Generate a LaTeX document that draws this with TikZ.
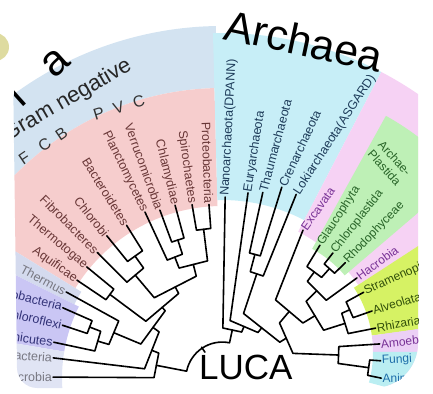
\documentclass[tikz,border=0pt]{standalone}
\usepackage{fontspec}
\setmainfont{Liberation Sans}
\usepackage{tikz}
\usetikzlibrary{calc}

\definecolor{negband}{RGB}{211,227,241}
\definecolor{bacpink}{RGB}{246,205,205}
\definecolor{thermbg}{RGB}{212,218,238}
\definecolor{posbg}{RGB}{202,198,244}
\definecolor{lowbg}{RGB}{224,228,244}
\definecolor{archbg}{RGB}{199,238,247}
\definecolor{eukbg}{RGB}{246,210,244}
\definecolor{plantbg}{RGB}{190,240,182}
\definecolor{sarbg}{RGB}{214,242,100}
\definecolor{amoebg}{RGB}{236,208,246}
\definecolor{opisbg}{RGB}{186,238,242}
\definecolor{dotbg}{RGB}{222,219,160}
\definecolor{bactext}{RGB}{105,55,55}
\definecolor{archtext}{RGB}{30,60,90}
\definecolor{plantext}{RGB}{40,100,40}
\definecolor{purptext}{RGB}{120,50,150}
\definecolor{sartext}{RGB}{50,80,10}
\definecolor{fungtext}{RGB}{30,110,170}
\definecolor{postext}{RGB}{50,50,120}
\definecolor{greytext}{RGB}{120,120,130}

\tikzset{
  branch/.style={draw=black, line width=1.6pt, line join=round, line cap=round},
  leaflabel/.style={font=\fontsize{12.5}{15}\selectfont, inner sep=1pt},
  baclabel/.style={leaflabel, anchor=east, text=bactext},
  arclabel/.style={leaflabel, anchor=west, text=archtext},
  euklabel/.style={leaflabel, anchor=west, font=\fontsize{12}{14}\selectfont},
  grouplabel/.style={font=\fontsize{43}{43}\selectfont, inner sep=0pt},
  cladelabel/.style={font=\fontsize{16}{16}\selectfont, text=black!80, inner sep=0pt},
}

% one clade: two children, the new node, its radius from (ctr)
\newcommand{\clade}[4]{%
  \coordinate (#3a) at ($(ctr)!#4!(#1)$);
  \coordinate (#3b) at ($(ctr)!#4!(#2)$);
  \draw[branch] (#1) -- (#3a) -- (#3b) -- (#2);
  \coordinate (#3) at ($(#3a)!.5!(#3b)$);
}
% coloured ring piece: centre, from, to, inner, outer, colour
\newcommand{\fillsector}[6]{%
  \fill[#6] ($(#1)+(#2:#4pt)$) arc[start angle=#2, end angle=#3, radius=#4pt]
    -- ($(#1)+(#3:#5pt)$) arc[start angle=#3, end angle=#2, radius=#5pt] -- cycle;
}

\begin{document}
\begin{tikzpicture}[x=1pt, y=1pt]
  \useasboundingbox (0,0) rectangle (433,393);
  \coordinate (T) at (222,15);
  \coordinate (E) at (255,41);

  % pale dot, top left
  \fill[dotbg] (-5,346) circle (14pt);

  \begin{scope}
  \clip (12,400) -- (17,25) .. controls (17,14) and (26,5) .. (37,5) -- (373,5)
    .. controls (398,5) and (418,25) .. (418,50) -- (418,400) -- cycle;

  % Backgrounds
  \fillsector{T}{91}{195}{290}{352}{negband}
  \fillsector{T}{91.5}{148.5}{172}{290}{bacpink}
  \fillsector{T}{148.5}{153.5}{165}{290}{thermbg}
  \fillsector{T}{153.5}{170.5}{160}{290}{posbg}
  \fillsector{T}{170.5}{195}{160}{290}{lowbg}
  \fillsector{T}{62.5}{91.5}{178}{345}{archbg}
  \fillsector{T}{-10}{62.5}{165}{345}{eukbg}
  \fillsector{E}{40.5}{61}{118}{270}{plantbg}
  \fillsector{E}{8}{33}{118}{270}{sarbg}
  \fillsector{E}{0}{8}{118}{270}{amoebg}
  \fillsector{E}{-15}{0}{118}{270}{opisbg}

  % Group names
  \node[grouplabel, rotate=-12, anchor=base west] (archaea) at (222,354) {Archaea};
  \node[grouplabel, rotate=42, anchor=base east] (bacteria) at (72,330)
    {\addfontfeature{LetterSpace=80}Bacteria};
  \node[rotate=30, anchor=base east, inner sep=0pt, text=black!85,
    font=\fontsize{22}{22}\selectfont] (gramneg) at (133,324) {Gram negative};
  \node[cladelabel, rotate=34] (fcb) at (43,247) {F\hspace{14pt}C\hspace{9pt}B};
  \node[cladelabel, rotate=17] (pvc) at (119,285) {P\hspace{10pt}V\hspace{10pt}C};
  \node[euklabel, text=plantext, rotate=-48, anchor=north west, align=left]
    (archpl) at (384,255) {Archae-\\Plastida};

  % Bacteria leaves
  \coordinate (proteo) at ($(T)+(94.3:174)$);
  \coordinate (spiro) at ($(T)+(99.8:176)$);
  \coordinate (chlam) at ($(T)+(105.2:179)$);
  \coordinate (verru) at ($(T)+(110.3:179)$);
  \coordinate (planc) at ($(T)+(114.9:183)$);
  \coordinate (bacter) at ($(T)+(122:180)$);
  \coordinate (chlorobi) at ($(T)+(129:183)$);
  \coordinate (fibro) at ($(T)+(134.8:177)$);
  \coordinate (thermot) at ($(T)+(140.6:175)$);
  \coordinate (aquif) at ($(T)+(146:175)$);
  \coordinate (thermus) at ($(T)+(151.1:178)$);
  \coordinate (cyano) at ($(T)+(156.2:174)$);
  \coordinate (chlflx) at ($(T)+(161.7:168)$);
  \coordinate (firmi) at ($(T)+(168:172)$);
  \coordinate (actino) at ($(T)+(173.2:170)$);
  \coordinate (thmicro) at ($(T)+(179.7:169)$);

  \node[baclabel, rotate=-88] (tproteo) at (proteo) {Proteobacteria};
  \node[baclabel, rotate=-82] (tspiro) at (spiro) {Spirochaetes};
  \node[baclabel, rotate=-76] (tchlam) at (chlam) {Chlamydiae};
  \node[baclabel, rotate=-70] (tverru) at (verru) {Verrucomicrobia};
  \node[baclabel, rotate=-64] (tplanc) at (planc) {Planctomycetes};
  \node[baclabel, rotate=-58] (tbacter) at (bacter) {Bacteroidetes};
  \node[baclabel, rotate=-51] (tchlorobi) at (chlorobi) {Chlorobi};
  \node[baclabel, rotate=-45] (tfibro) at (fibro) {Fibrobacteres};
  \node[baclabel, rotate=-40] (tthermot) at (thermot) {Thermotogae};
  \node[baclabel, rotate=-35] (taquif) at (aquif) {Aquificae};
  \node[baclabel, rotate=-28, text=greytext] (tthermus) at (thermus) {Thermus};
  \node[baclabel, rotate=-14, text=postext] (tcyano) at (cyano) {Cyanobacteria};
  \node[baclabel, rotate=-13, text=postext] (tchlflx) at (chlflx) {Chloroflexi};
  \node[baclabel, rotate=-8, text=postext] (tfirmi) at (firmi) {Firmicutes};
  \node[baclabel, rotate=-4, text=greytext] (tactino) at (actino) {Actinobacteria};
  \node[baclabel, text=greytext] (tthmicro) at (thmicro) {Thermomicrobia};

  % Archaea leaves
  \coordinate (nano) at ($(T)+(89:181)$);
  \coordinate (eury) at ($(T)+(82:187)$);
  \coordinate (thaum) at ($(T)+(77.6:190)$);
  \coordinate (cren) at ($(T)+(72.6:200)$);
  \coordinate (loki) at ($(T)+(68:198)$);

  \node[arclabel, rotate=87] (tnano) at (nano) {Nanoarchaeota(DPANN)};
  \node[arclabel, rotate=81] (teury) at (eury) {Euryarchaeota};
  \node[arclabel, rotate=75] (tthaum) at (thaum) {Thaumarchaeota};
  \node[arclabel, rotate=65] (tcren) at (cren) {Crenarchaeota};
  \node[arclabel, rotate=57] (tloki) at (loki) {Lokiarchaeota(ASGARD)};

  % Eukaryote leaves
  \coordinate (excav) at ($(E)+(68.5:131)$);
  \coordinate (glauco) at ($(E)+(58.7:125)$);
  \coordinate (chloro) at ($(E)+(51.8:126)$);
  \coordinate (rhodo) at ($(E)+(44.7:127)$);
  \coordinate (hacro) at ($(E)+(36:126)$);
  \coordinate (stram) at ($(E)+(28.8:124)$);
  \coordinate (alveo) at ($(E)+(19.3:124)$);
  \coordinate (rhiz) at ($(E)+(11.2:123)$);
  \coordinate (amoebo) at ($(E)+(3.7:125)$);
  \coordinate (fungi) at ($(E)+(-4:126)$);
  \coordinate (animal) at ($(E)+(-11.7:129)$);

  \node[euklabel, rotate=55, text=purptext] (texcav) at (excav) {Excavata};
  \node[euklabel, rotate=57, text=plantext] (tglauco) at (glauco) {Glaucophyta};
  \node[euklabel, rotate=52, text=plantext] (tchloro) at (chloro) {Chloroplastida};
  \node[euklabel, rotate=46, text=plantext] (trhodo) at (rhodo) {Rhodophyceae};
  \node[euklabel, rotate=36, text=purptext] (thacro) at (hacro) {Hacrobia};
  \node[euklabel, rotate=24, text=sartext] (tstram) at (stram) {Stramenopiles};
  \node[euklabel, rotate=17, text=sartext] (talveo) at (alveo) {Alveolata};
  \node[euklabel, rotate=10, text=sartext] (trhiz) at (rhiz) {Rhizaria};
  \node[euklabel, rotate=6, text=purptext] (tamoebo) at (amoebo) {Amoebozoa};
  \node[euklabel, rotate=3, text=fungtext] (tfungi) at (fungi) {Fungi};
  \node[euklabel, rotate=1, text=fungtext] (tanimal) at (animal) {Animalia};

  % Bacteria tree
  \coordinate (ctr) at (T);
  \clade{spiro}{proteo}{nps}{150pt}
  \clade{verru}{chlam}{nvc}{145pt}
  \clade{planc}{nvc}{npvc}{130pt}
  \clade{npvc}{nps}{ntop}{118pt}
  \clade{chlorobi}{bacter}{ncb}{150pt}
  \clade{fibro}{ncb}{nfcb}{135pt}
  \clade{nfcb}{ntop}{nup}{105pt}
  \clade{aquif}{thermot}{nta}{140pt}
  \clade{nta}{nup}{nup2}{95pt}
  \clade{chlflx}{cyano}{ncc}{142pt}
  \clade{firmi}{ncc}{nccf}{130pt}
  \clade{nccf}{thermus}{ntcf}{118pt}
  \clade{ntcf}{nup2}{ng2}{88pt}
  \clade{actino}{ng2}{ng3}{78pt}
  \clade{thmicro}{ng3}{nbac}{68pt}

  % Eukaryote tree
  \coordinate (ctr) at (E);
  \clade{chloro}{rhodo}{nar}{112pt}
  \clade{glauco}{nar}{narch}{100pt}
  \clade{narch}{hacro}{nah}{88pt}
  \clade{stram}{alveo}{nsa}{104pt}
  \clade{nsa}{rhiz}{nsar}{95pt}
  \clade{nah}{nsar}{ndiaph}{72pt}
  \clade{excav}{ndiaph}{nbik}{56pt}
  \clade{fungi}{animal}{nop}{115pt}
  \clade{amoebo}{nop}{namor}{84pt}
  \clade{nbik}{namor}{neuk}{38pt}

  % Archaea tree
  \coordinate (ctr) at (T);
  \clade{thaum}{cren}{ntc}{128pt}
  \clade{ntc}{loki}{ntl}{110pt}
  \clade{ntl}{neuk}{nasg}{68pt}
  \clade{eury}{nasg}{neury}{58pt}
  \clade{nano}{neury}{nae}{50pt}

  % Root
  \coordinate (rootb) at ($(T)!36pt!(nbac)$);
  \coordinate (roota) at ($(T)!36pt!(nae)$);
  \draw[branch] (nbac) -- (rootb) to[bend left=45] (roota) -- (nae);
  \coordinate (rootm) at ($(rootb)!.5!(roota)$);
  \coordinate (stem1) at ($(T)!37pt!(rootm)$);
  \coordinate (stem2) at ($(T)!31pt!(rootm)$);
  \draw[branch] (stem1) -- (stem2);
  \end{scope}

  \node[font=\fontsize{35}{35}\selectfont, anchor=base west, inner sep=0pt]
    (luca) at (199,13) {LUCA};
\end{tikzpicture}
\end{document}
